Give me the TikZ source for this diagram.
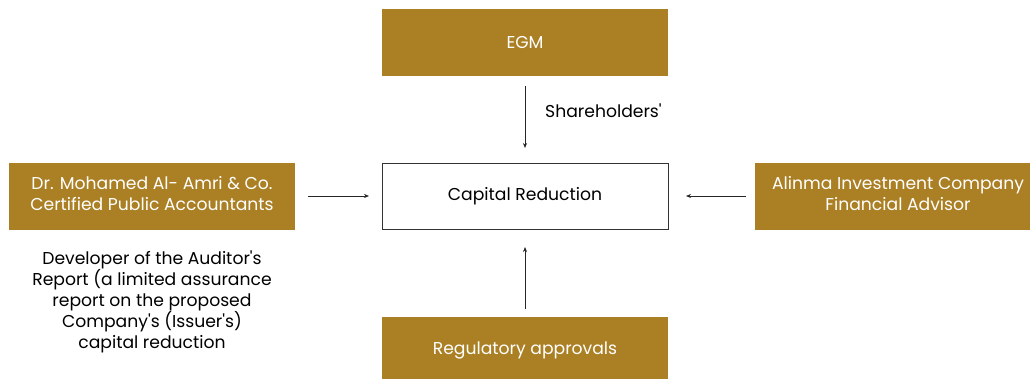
\documentclass[tikz,border=0pt]{standalone}
\usepackage{fontspec}
\setmainfont{Poppins}[Ligatures=TeXOff]
\usetikzlibrary{arrows.meta}
\definecolor{gold}{HTML}{AB7F24}
\definecolor{linegray}{HTML}{333333}
\begin{document}
\begin{tikzpicture}[x=1pt,y=-1pt,
  goldbox/.style={fill=gold, draw=none, minimum width=286pt, minimum height=67pt,
    text=white, align=center, font=\fontsize{17.2}{21}\selectfont, inner sep=0pt},
  plainbox/.style={draw=linegray, line width=0.6pt, fill=white, minimum width=286pt, minimum height=66pt,
    align=center, font=\fontsize{17.2}{21}\selectfont, inner sep=0pt},
  flow/.style={draw=black!85, line width=0.7pt, -{Stealth[length=5pt,width=4pt]}},
  note/.style={align=center, font=\fontsize{17.2}{21}\selectfont, inner sep=0pt}]
\useasboundingbox (0,0) rectangle (1030,378);
\begin{scope}
\clip (0,0) rectangle (1030,378);
\node[goldbox] (egm) at (525,42.5) {EGM};
\node[plainbox] (cap) at (525,196) {Capital Reduction};
\node[goldbox] (aud) at (152,196) {};
\node[goldbox] (adv) at (898,196) {};
\node[goldbox] (reg) at (525,350.5) {Regulatory approvals};
\end{scope}
% two-line labels of the side boxes, set a little above centre
\node[text=white, align=center, font=\fontsize{17.2}{21}\selectfont, inner sep=0pt] (audtxt) at (152,193.5) {Dr. Mohamed Al- Amri \& Co.\\Certified Public Accountants};
\node[text=white, align=center, font=\fontsize{17.2}{21}\selectfont, inner sep=0pt] (advtxt) at (898,193.5) {Alinma Investment Company\\Financial Advisor};
\coordinate (egmS) at (525,86);
\coordinate (capN) at (525,148);
\coordinate (audE) at (308,196);
\coordinate (capW) at (369,196);
\coordinate (advW) at (746,196);
\coordinate (capE) at (686,196);
\coordinate (regN) at (525,309);
\coordinate (capS) at (525,247);
\draw[flow] (egmS) -- (capN);
\draw[flow] (audE) -- (capW);
\draw[flow] (advW) -- (capE);
\draw[flow] (regN) -- (capS);
\node[anchor=west, font=\fontsize{17.2}{21}\selectfont, inner sep=0pt] (sh) at (545,111) {Shareholders'};
\node[note] (dev) at (152,301.5) {Developer of the Auditor's\\Report (a limited assurance\\report on the proposed\\Company's (Issuer's)\\capital reduction};
\end{tikzpicture}
\end{document}
